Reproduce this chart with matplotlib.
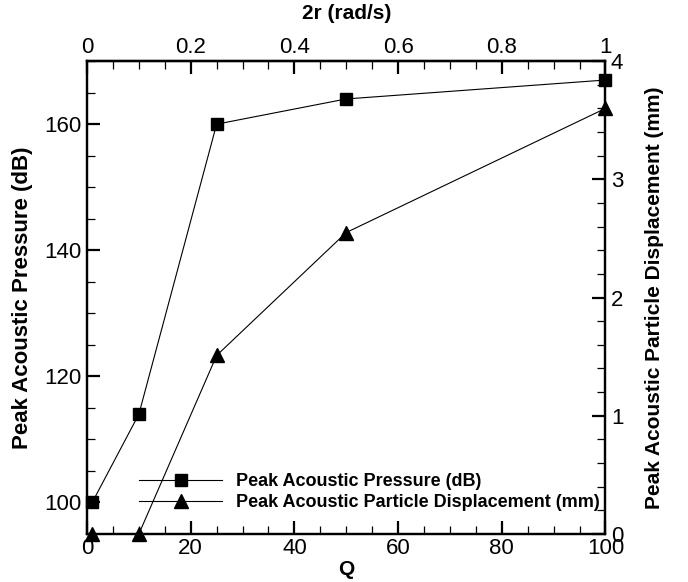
import numpy as np
import matplotlib
matplotlib.use("Agg")
import matplotlib.pyplot as plt
from matplotlib.ticker import MultipleLocator

plt.rcParams['font.family'] = ['Liberation Sans', 'DejaVu Sans']

# datos
Q = [1, 10, 25, 50, 100]
presion = [100, 114, 160, 164, 167]          # dB
desplazamiento = [0.0, 0.0, 1.51, 2.55, 3.6]  # mm

fig = plt.figure(figsize=(6.88, 5.82), dpi=100)
ax = fig.add_axes([0.1265, 0.0825, 0.7535, 0.8125])
ax2 = ax.twinx()

l1, = ax.plot(Q, presion, color="black", lw=0.8, marker="s", ms=8.5, clip_on=False, zorder=5,
              label="Peak Acoustic Pressure (dB)")
l2, = ax2.plot(Q, desplazamiento, color="black", lw=0.8, marker="^", ms=9.5, clip_on=False, zorder=5,
               label="Peak Acoustic Particle Displacement (mm)")

ax.set_xlim(0, 100)
ax.set_ylim(95, 170)
ax2.set_ylim(0, 4)

ax.xaxis.set_major_locator(MultipleLocator(20))
ax.xaxis.set_minor_locator(MultipleLocator(5))
ax.yaxis.set_major_locator(MultipleLocator(20))
ax.yaxis.set_minor_locator(MultipleLocator(5))
ax2.yaxis.set_major_locator(MultipleLocator(1))
ax2.yaxis.set_minor_locator(MultipleLocator(0.2))

# eje superior 2r = Q/100
top = ax.secondary_xaxis('top', functions=(lambda q: q / 100.0, lambda r: r * 100.0))
top.xaxis.set_minor_locator(MultipleLocator(0.05))
top.set_xticks([0, 0.2, 0.4, 0.6, 0.8, 1.0], ["0", "0.2", "0.4", "0.6", "0.8", "1"])

for a in (ax, ax2):
    for s in a.spines.values():
        s.set_linewidth(1.6)
top.spines['top'].set_linewidth(1.6)

for a in (ax, ax2, top):
    a.tick_params(which="major", direction="in", length=9.5, width=1.6, labelsize=16, pad=4)
    a.tick_params(which="minor", direction="in", length=6, width=0.9)
ax.tick_params(axis="x", pad=3)
top.tick_params(axis="x", pad=2)

ax.set_xlabel("Q", fontsize=15, fontweight="bold")
ax.xaxis.set_label_coords(0.5, -0.055)
ax.set_ylabel("Peak Acoustic Pressure (dB)", fontsize=16, fontweight="bold")
ax.yaxis.set_label_coords(-0.104, 0.5)
ax2.set_ylabel("Peak Acoustic Particle Displacement (mm)", fontsize=15, fontweight="bold")
ax2.yaxis.set_label_coords(1.076, 0.5)
top.set_xlabel("2r (rad/s)", fontsize=15, fontweight="bold", labelpad=13)

ax2.legend([l1, l2], [l1.get_label(), l2.get_label()], loc="lower left",
           bbox_to_anchor=(0.202, 0.122), bbox_transform=fig.transFigure,
           frameon=False, borderpad=0, borderaxespad=0, handlelength=4.6,
           handletextpad=0.78, labelspacing=0.2, numpoints=1,
           prop={"weight": "bold", "size": 13})

fig.savefig("out.png", dpi=100)
